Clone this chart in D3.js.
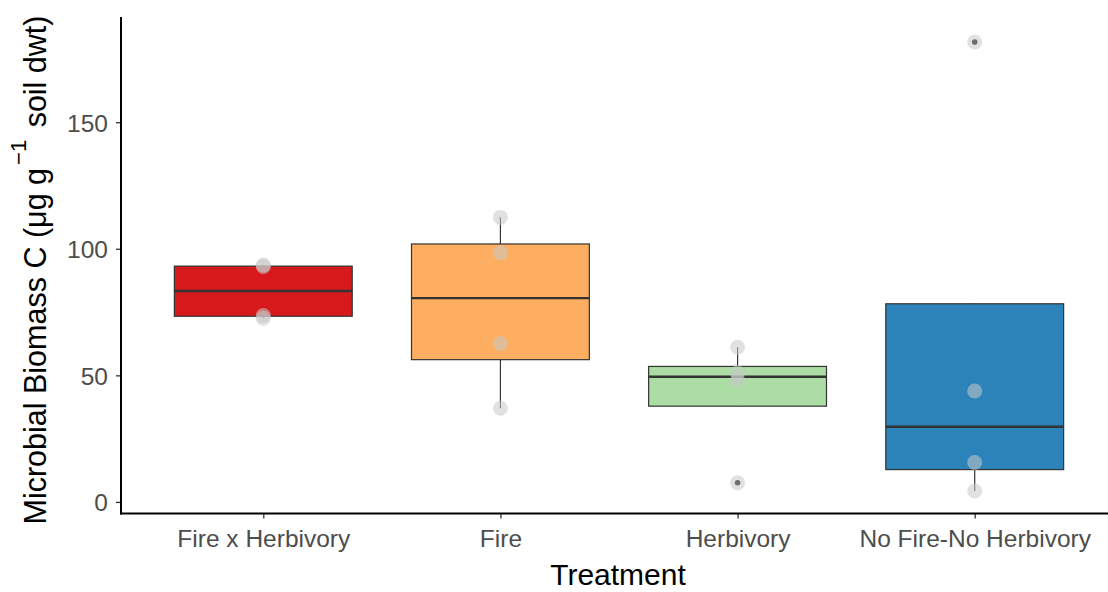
<!DOCTYPE html>
<html>
<head>
<meta charset="utf-8">
<script src="https://cdn.jsdelivr.net/npm/d3@7"></script>
<style>
  html, body { margin: 0; padding: 0; background: #fff; }
  svg { display: block; font-family: "Liberation Sans", Arial, sans-serif; }
</style>
</head>
<body>
<svg id="chart" width="1108" height="592"></svg>
<script>
// Treatment groups and microbial biomass C per plot (µg g-1 soil dwt)
const categories = ["Fire x Herbivory", "Fire", "Herbivory", "No Fire-No Herbivory"];
const fireHerbivory = [72.6, 73.6, 93.0, 93.6];
const fire = [37.0, 62.6, 98.4, 112.4];
const herbivory = [7.6, 47.9, 51.0, 61.1];
const noFireNoHerbivory = [4.3, 15.6, 43.8, 181.7];
const yTicks = [0, 50, 100, 150];
const fillColors = ["#D7191C", "#FDAE61", "#ABDDA4", "#2B83BA"];

const groups = [fireHerbivory, fire, herbivory, noFireNoHerbivory].map((vals, i) => ({
  name: categories[i], values: vals.slice().sort(d3.ascending), fill: fillColors[i]
}));

const W = 1108, H = 592;
const plotLeft = 121, plotBottom = 513.5, plotTop = 19.5, plotRight = 1117;

const svg = d3.select("#chart");
svg.append("rect").attr("width", W).attr("height", H).attr("fill", "#fff");

// y domain with 5% expansion on each side
const all = groups.flatMap(g => g.values);
const [lo, hi] = d3.extent(all);
const pad = (hi - lo) * 0.05;
const y = d3.scaleLinear().domain([lo - pad, hi + pad]).range([plotBottom, plotTop]);
const x = d3.scalePoint().domain(categories).range([plotLeft, plotRight]).padding(0.6);
const step = x.step();
const boxW = step * 0.75;

// box statistics (quantile type 7, 1.5 IQR whiskers)
groups.forEach(g => {
  const v = g.values;
  g.q1 = d3.quantile(v, 0.25);
  g.med = d3.quantile(v, 0.5);
  g.q3 = d3.quantile(v, 0.75);
  const iqr = g.q3 - g.q1;
  const inside = v.filter(d => d >= g.q1 - 1.5 * iqr && d <= g.q3 + 1.5 * iqr);
  g.wLo = d3.min(inside);
  g.wHi = d3.max(inside);
  g.outliers = v.filter(d => d < g.q1 - 1.5 * iqr || d > g.q3 + 1.5 * iqr);
});

const plot = svg.append("g");
const box = plot.selectAll("g.box").data(groups).join("g").attr("class", "box");

// whiskers
box.append("line")
  .attr("x1", d => x(d.name)).attr("x2", d => x(d.name))
  .attr("y1", d => y(d.q3)).attr("y2", d => y(d.wHi))
  .attr("stroke", "#333").attr("stroke-width", 1.2);
box.append("line")
  .attr("x1", d => x(d.name)).attr("x2", d => x(d.name))
  .attr("y1", d => y(d.q1)).attr("y2", d => y(d.wLo))
  .attr("stroke", "#333").attr("stroke-width", 1.2);

// boxes
box.append("rect")
  .attr("x", d => x(d.name) - boxW / 2)
  .attr("width", boxW)
  .attr("y", d => y(d.q3))
  .attr("height", d => y(d.q1) - y(d.q3))
  .attr("fill", d => d.fill)
  .attr("stroke", "#333").attr("stroke-width", 1.2);

// medians
box.append("line")
  .attr("x1", d => x(d.name) - boxW / 2).attr("x2", d => x(d.name) + boxW / 2)
  .attr("y1", d => y(d.med)).attr("y2", d => y(d.med))
  .attr("stroke", "#333").attr("stroke-width", 2.4);

// outliers
box.selectAll("circle.out").data(d => d.outliers.map(v => ({ name: d.name, v })))
  .join("circle").attr("class", "out")
  .attr("cx", d => x(d.name)).attr("cy", d => y(d.v)).attr("r", 2.8)
  .attr("fill", "#000");

// individual observations
plot.selectAll("circle.obs")
  .data(groups.flatMap(g => g.values.map(v => ({ name: g.name, v }))))
  .join("circle").attr("class", "obs")
  .attr("cx", d => x(d.name)).attr("cy", d => y(d.v)).attr("r", 7.5)
  .attr("fill", "#c8c8c8").attr("fill-opacity", 0.55);

// axes
const yAxis = svg.append("g").attr("transform", `translate(${plotLeft},0)`)
  .call(d3.axisLeft(y).tickValues(yTicks).tickSize(5).tickPadding(8));
const xAxis = svg.append("g").attr("transform", `translate(0,${plotBottom})`)
  .call(d3.axisBottom(x).tickSize(5).tickPadding(11));

[yAxis, xAxis].forEach(a => {
  a.select(".domain").remove();
  a.selectAll(".tick line").attr("stroke", "#333").attr("stroke-width", 1.3);
  a.selectAll(".tick text").attr("fill", "#4D4D4D").style("font-size", "24.5px");
});
yAxis.selectAll(".tick text").attr("dy", "0.36em");

svg.append("line").attr("x1", plotLeft).attr("x2", plotLeft).attr("y1", plotTop - 2.5).attr("y2", plotBottom + 1)
  .attr("stroke", "#000").attr("stroke-width", 2);
svg.append("line").attr("x1", plotLeft - 1).attr("x2", W).attr("y1", plotBottom).attr("y2", plotBottom)
  .attr("stroke", "#000").attr("stroke-width", 2);

// axis titles
svg.append("text")
  .attr("x", x(categories[1]) + (x(categories[2]) - x(categories[1])) / 2 - 1)
  .attr("y", 585)
  .attr("text-anchor", "middle")
  .style("font-size", "30px")
  .attr("fill", "#000")
  .text("Treatment");

const yt = svg.append("text")
  .attr("transform", "translate(46,270) rotate(-90)")
  .attr("text-anchor", "middle")
  .style("font-size", "30.5px")
  .attr("fill", "#000");
yt.append("tspan").text("Microbial Biomass C (\u03bcg g");
yt.append("tspan").attr("dy", -20).attr("dx", 3).style("font-size", "22px").text("\u22121");
yt.append("tspan").attr("dy", 20).attr("dx", 4).text(" soil dwt)");
</script>
</body>
</html>
